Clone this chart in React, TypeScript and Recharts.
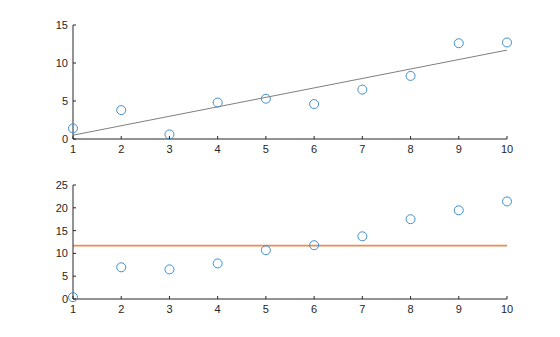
import React from "react";
import { ComposedChart, Scatter, Line, XAxis, YAxis, ReferenceLine } from "recharts";

const xValues = [1, 2, 3, 4, 5, 6, 7, 8, 9, 10];
const topValues = [1.4, 3.8, 0.6, 4.8, 5.3, 4.6, 6.5, 8.3, 12.6, 12.7];
const topFitX = [1, 10];
const topFitY = [0.5, 11.7];
const bottomValues = [0.4, 6.95, 6.5, 7.8, 10.7, 11.8, 13.75, 17.5, 19.45, 21.4];
const bottomMean = 11.7;
const xTicks = [1, 2, 3, 4, 5, 6, 7, 8, 9, 10];
const topYTicks = [0, 5, 10, 15];
const bottomYTicks = [0, 5, 10, 15, 20, 25];

const AXIS = "#262626";
const FONT = "'Liberation Sans', Arial, Helvetica, sans-serif";
const BLUE = "#3f8fd2";
const ORANGE = "#ee8a4e";
const GRAY = "#7f7f7f";

const topData = xValues.map((x, i) => {
  const fi = topFitX.indexOf(x);
  return { x, y: topValues[i], fit: fi >= 0 ? topFitY[fi] : null };
});
const bottomData = xValues.map((x, i) => ({ x, y: bottomValues[i] }));

const XTick = (props: any) => {
  const { x, y, payload } = props;
  return (
    <g>
      <line x1={x} y1={y} x2={x} y2={y - 3} stroke={AXIS} strokeWidth={1} />
      <text x={x} y={y + 14} textAnchor="middle" fill={AXIS} fontSize={11} fontFamily={FONT}>
        {payload.value}
      </text>
    </g>
  );
};

const YTick = (props: any) => {
  const { x, y, payload } = props;
  return (
    <g>
      <line x1={x} y1={y} x2={x + 3} y2={y} stroke={AXIS} strokeWidth={1} />
      <text x={x - 5} y={y + 4} textAnchor="end" fill={AXIS} fontSize={11} fontFamily={FONT}>
        {payload.value}
      </text>
    </g>
  );
};

const Marker = (props: any) => {
  const { cx, cy } = props;
  return <circle cx={cx} cy={cy} r={4.5} fill="none" stroke={BLUE} strokeWidth={1} />;
};

export default function App() {
  return (
    <div style={{ position: "absolute", left: 0, top: 0, width: 560, height: 337, background: "#fff" }}>
      <div style={{ position: "absolute", left: 0, top: 0 }}>
        <ComposedChart width={560} height={170} data={topData} margin={{ top: 25, right: 53, left: 0, bottom: 0 }}>
          <XAxis
            type="number"
            dataKey="x"
            domain={[1, 10]}
            ticks={xTicks}
            interval={0}
            height={31}
            tickSize={0}
            tickMargin={0}
            tickLine={false}
            axisLine={{ stroke: AXIS }}
            tick={XTick}
          />
          <YAxis
            type="number"
            domain={[0, 15]}
            ticks={topYTicks}
            interval={0}
            width={73}
            tickSize={0}
            tickMargin={0}
            tickLine={false}
            axisLine={{ stroke: AXIS }}
            tick={YTick}
          />
          <Line
            dataKey="fit"
            stroke={GRAY}
            strokeWidth={1}
            dot={false}
            activeDot={false}
            connectNulls
            isAnimationActive={false}
          />
          <Scatter dataKey="y" shape={Marker} isAnimationActive={false} />
        </ComposedChart>
      </div>
      <div style={{ position: "absolute", left: 0, top: 160 }}>
        <ComposedChart width={560} height={177} data={bottomData} margin={{ top: 25, right: 53, left: 0, bottom: 0 }}>
          <XAxis
            type="number"
            dataKey="x"
            domain={[1, 10]}
            ticks={xTicks}
            interval={0}
            height={38}
            tickSize={0}
            tickMargin={0}
            tickLine={false}
            axisLine={{ stroke: AXIS }}
            tick={XTick}
          />
          <YAxis
            type="number"
            domain={[0, 25]}
            ticks={bottomYTicks}
            interval={0}
            width={73}
            tickSize={0}
            tickMargin={0}
            tickLine={false}
            axisLine={{ stroke: AXIS }}
            tick={YTick}
          />
          <ReferenceLine y={bottomMean} stroke={ORANGE} strokeWidth={1.6} />
          <Scatter dataKey="y" shape={Marker} isAnimationActive={false} />
        </ComposedChart>
      </div>
    </div>
  );
}
